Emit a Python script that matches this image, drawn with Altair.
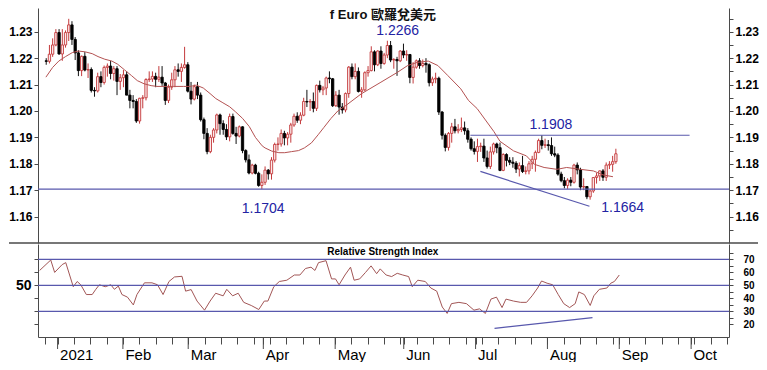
import altair as alt
import pandas as pd

# ---------------- data (trading-day index: 0 = 4 Jan 2021) ----------------
day_index = list(range(-5, 173))
open_px = [
    1.2190, 1.2188, 1.2215, 1.2250, 1.2297, 1.2216, 1.2250, 1.2297, 1.2326, 1.2271,
    1.2220, 1.2153, 1.2207, 1.2155, 1.2157, 1.2078, 1.2076, 1.2130, 1.2108, 1.2165,
    1.2170, 1.2142, 1.2160, 1.2112, 1.2126, 1.2137, 1.2060, 1.2040, 1.2036, 1.1962,
    1.2048, 1.2050, 1.2119, 1.2121, 1.2131, 1.2120, 1.2128, 1.2106, 1.2040, 1.2090,
    1.2118, 1.2156, 1.2150, 1.2165, 1.2175, 1.2075, 1.2045, 1.2092, 1.2060, 1.1967,
    1.1915, 1.1846, 1.1900, 1.1928, 1.1985, 1.1952, 1.1930, 1.1902, 1.1979, 1.1915,
    1.1905, 1.1940, 1.1850, 1.1815, 1.1765, 1.1795, 1.1764, 1.1718, 1.1730, 1.1776,
    1.1762, 1.1814, 1.1873, 1.1875, 1.1915, 1.1898, 1.1912, 1.1947, 1.1980, 1.1965,
    1.1984, 1.2036, 1.2034, 1.2036, 1.2010, 1.2097, 1.2080, 1.2087, 1.2125, 1.2122,
    1.2020, 1.2060, 1.2015, 1.2004, 1.2066, 1.2166, 1.2130, 1.2150, 1.2074, 1.2080,
    1.2145, 1.2153, 1.2224, 1.2175, 1.2227, 1.2180, 1.2212, 1.2248, 1.2193, 1.2195,
    1.2190, 1.2227, 1.2212, 1.2214, 1.2127, 1.2166, 1.2190, 1.2172, 1.2180, 1.2175,
    1.2107, 1.2121, 1.2124, 1.1996, 1.1908, 1.1862, 1.1915, 1.1940, 1.1925, 1.1930,
    1.1936, 1.1925, 1.1893, 1.1857, 1.1847, 1.1865, 1.1867, 1.1822, 1.1790, 1.1845,
    1.1875, 1.1861, 1.1775, 1.1835, 1.1813, 1.1806, 1.1802, 1.1780, 1.1793, 1.1771,
    1.1773, 1.1800, 1.1817, 1.1843, 1.1888, 1.1870, 1.1872, 1.1869, 1.1838, 1.1833,
    1.1761, 1.1736, 1.1718, 1.1738, 1.1730, 1.1795, 1.1777, 1.1712, 1.1714, 1.1675,
    1.1697, 1.1748, 1.1754, 1.1773, 1.1749, 1.1795, 1.1798, 1.1808,
]
high_px = [
    1.2200, 1.2250, 1.2275, 1.2310, 1.2310, 1.2310, 1.2305, 1.2349, 1.2340, 1.2280,
    1.2230, 1.2210, 1.2223, 1.2180, 1.2165, 1.2090, 1.2145, 1.2150, 1.2172, 1.2180,
    1.2190, 1.2170, 1.2170, 1.2140, 1.2155, 1.2150, 1.2080, 1.2060, 1.2045, 1.2050,
    1.2060, 1.2124, 1.2150, 1.2150, 1.2145, 1.2170, 1.2170, 1.2110, 1.2100, 1.2145,
    1.2170, 1.2180, 1.2180, 1.2243, 1.2185, 1.2110, 1.2100, 1.2110, 1.2070, 1.1975,
    1.1935, 1.1910, 1.1935, 1.1990, 1.1990, 1.1965, 1.1950, 1.1990, 1.1990, 1.1940,
    1.1945, 1.1942, 1.1855, 1.1835, 1.1800, 1.1800, 1.1770, 1.1760, 1.1790, 1.1780,
    1.1825, 1.1880, 1.1900, 1.1930, 1.1925, 1.1920, 1.1955, 1.1990, 1.1995, 1.1995,
    1.2050, 1.2080, 1.2045, 1.2070, 1.2100, 1.2115, 1.2095, 1.2130, 1.2150, 1.2125,
    1.2075, 1.2080, 1.2030, 1.2070, 1.2170, 1.2180, 1.2180, 1.2165, 1.2090, 1.2150,
    1.2170, 1.2245, 1.2230, 1.2230, 1.2245, 1.2220, 1.2266, 1.2265, 1.2200, 1.2205,
    1.2230, 1.2255, 1.2230, 1.2215, 1.2185, 1.2195, 1.2200, 1.2195, 1.2200, 1.2180,
    1.2130, 1.2145, 1.2130, 1.2000, 1.1915, 1.1920, 1.1955, 1.1970, 1.1950, 1.1975,
    1.1960, 1.1935, 1.1900, 1.1885, 1.1895, 1.1880, 1.1895, 1.1850, 1.1865, 1.1880,
    1.1880, 1.1880, 1.1840, 1.1840, 1.1825, 1.1825, 1.1810, 1.1805, 1.1830, 1.1790,
    1.1810, 1.1830, 1.1850, 1.1895, 1.1908, 1.1895, 1.1890, 1.1900, 1.1865, 1.1840,
    1.1770, 1.1750, 1.1745, 1.1750, 1.1800, 1.1805, 1.1785, 1.1745, 1.1715, 1.1702,
    1.1750, 1.1765, 1.1775, 1.1780, 1.1805, 1.1810, 1.1830, 1.1857,
]
low_px = [
    1.2175, 1.2180, 1.2205, 1.2245, 1.2213, 1.2190, 1.2240, 1.2265, 1.2250, 1.2193,
    1.2132, 1.2132, 1.2150, 1.2125, 1.2070, 1.2054, 1.2070, 1.2090, 1.2100, 1.2130,
    1.2120, 1.2115, 1.2060, 1.2080, 1.2090, 1.2060, 1.2010, 1.2010, 1.1955, 1.1952,
    1.2010, 1.2040, 1.2110, 1.2110, 1.2090, 1.2110, 1.2095, 1.2023, 1.2030, 1.2080,
    1.2090, 1.2130, 1.2110, 1.2160, 1.2070, 1.2025, 1.2040, 1.2045, 1.1960, 1.1893,
    1.1836, 1.1840, 1.1880, 1.1915, 1.1910, 1.1910, 1.1890, 1.1885, 1.1910, 1.1875,
    1.1900, 1.1840, 1.1805, 1.1760, 1.1760, 1.1760, 1.1713, 1.1704, 1.1720, 1.1740,
    1.1740, 1.1805, 1.1850, 1.1865, 1.1870, 1.1870, 1.1880, 1.1940, 1.1955, 1.1950,
    1.1980, 1.2015, 1.2000, 1.1995, 1.2000, 1.2070, 1.2060, 1.2060, 1.2105, 1.2015,
    1.2015, 1.1986, 1.1990, 1.1995, 1.2050, 1.2120, 1.2120, 1.2070, 1.2050, 1.2075,
    1.2130, 1.2150, 1.2150, 1.2170, 1.2160, 1.2175, 1.2200, 1.2185, 1.2160, 1.2133,
    1.2185, 1.2200, 1.2190, 1.2105, 1.2104, 1.2160, 1.2160, 1.2165, 1.2145, 1.2093,
    1.2095, 1.2105, 1.1985, 1.1892, 1.1847, 1.1850, 1.1880, 1.1915, 1.1915, 1.1920,
    1.1910, 1.1880, 1.1850, 1.1835, 1.1807, 1.1845, 1.1807, 1.1782, 1.1780, 1.1835,
    1.1840, 1.1772, 1.1772, 1.1790, 1.1795, 1.1785, 1.1765, 1.1752, 1.1765, 1.1760,
    1.1760, 1.1780, 1.1770, 1.1840, 1.1855, 1.1860, 1.1850, 1.1830, 1.1825, 1.1755,
    1.1730, 1.1707, 1.1705, 1.1715, 1.1725, 1.1760, 1.1700, 1.1700, 1.1666, 1.1664,
    1.1690, 1.1725, 1.1735, 1.1735, 1.1735, 1.1780, 1.1770, 1.1800,
]
close_px = [
    1.2188, 1.2215, 1.2250, 1.2297, 1.2216, 1.2250, 1.2297, 1.2326, 1.2271, 1.2220,
    1.2153, 1.2207, 1.2155, 1.2157, 1.2078, 1.2076, 1.2130, 1.2108, 1.2165, 1.2170,
    1.2142, 1.2160, 1.2112, 1.2126, 1.2137, 1.2060, 1.2040, 1.2036, 1.1962, 1.2048,
    1.2050, 1.2119, 1.2121, 1.2131, 1.2120, 1.2128, 1.2106, 1.2040, 1.2090, 1.2118,
    1.2156, 1.2150, 1.2165, 1.2175, 1.2075, 1.2045, 1.2092, 1.2060, 1.1967, 1.1915,
    1.1846, 1.1900, 1.1928, 1.1985, 1.1952, 1.1930, 1.1902, 1.1979, 1.1915, 1.1905,
    1.1940, 1.1850, 1.1815, 1.1765, 1.1795, 1.1764, 1.1718, 1.1730, 1.1776, 1.1762,
    1.1814, 1.1873, 1.1875, 1.1915, 1.1898, 1.1912, 1.1947, 1.1980, 1.1965, 1.1984,
    1.2036, 1.2034, 1.2036, 1.2010, 1.2097, 1.2080, 1.2087, 1.2125, 1.2122, 1.2020,
    1.2060, 1.2015, 1.2004, 1.2066, 1.2166, 1.2130, 1.2150, 1.2074, 1.2080, 1.2145,
    1.2153, 1.2224, 1.2175, 1.2227, 1.2180, 1.2212, 1.2248, 1.2193, 1.2195, 1.2190,
    1.2227, 1.2212, 1.2214, 1.2127, 1.2166, 1.2190, 1.2172, 1.2180, 1.2175, 1.2107,
    1.2121, 1.2124, 1.1996, 1.1908, 1.1862, 1.1915, 1.1940, 1.1925, 1.1930, 1.1936,
    1.1925, 1.1893, 1.1857, 1.1847, 1.1865, 1.1867, 1.1822, 1.1790, 1.1845, 1.1875,
    1.1861, 1.1775, 1.1835, 1.1813, 1.1806, 1.1802, 1.1780, 1.1793, 1.1771, 1.1773,
    1.1800, 1.1817, 1.1843, 1.1888, 1.1870, 1.1872, 1.1869, 1.1838, 1.1833, 1.1761,
    1.1736, 1.1718, 1.1738, 1.1730, 1.1795, 1.1777, 1.1712, 1.1714, 1.1675, 1.1697,
    1.1748, 1.1754, 1.1773, 1.1749, 1.1795, 1.1798, 1.1808, 1.1838,
]

ma_index = [-5.1, -3.0, -1.1, 1.0, 3.1, 5.0, 7.1, 9.3, 11.1, 13.2, 15.4, 17.2, 19.3, 21.5,
            23.3, 25.4, 27.6, 29.4, 31.5, 34.6, 37.6, 39.8, 41.6, 43.8, 45.9, 47.7, 49.9,
            52.0, 53.8, 56.0, 58.1, 60.0, 62.1, 63.0, 65.1, 67.3, 69.1, 71.2, 73.4, 75.2,
            77.4, 79.5, 81.3, 83.5, 85.6, 87.7, 92.9, 99.0, 104.2, 107.3, 110.3, 113.7,
            116.7, 119.8, 123.8, 126.2, 128.9, 134.1, 136.0, 140.2, 144.2, 146.7, 149.7,
            153.7, 156.7, 161.0, 165.0, 168.0, 171.1]
ma_value = [1.2128, 1.2165, 1.2189, 1.2206, 1.2221, 1.2227, 1.2224, 1.2217, 1.2206, 1.2196,
            1.2189, 1.2177, 1.2156, 1.2134, 1.2115, 1.2103, 1.2096, 1.2093, 1.2093, 1.2093,
            1.2093, 1.2093, 1.2098, 1.2087, 1.2066, 1.2047, 1.2031, 1.2016, 1.1997, 1.1972,
            1.1941, 1.1900, 1.1868, 1.1860, 1.1848, 1.1842, 1.1842, 1.1846, 1.1850, 1.1860,
            1.1879, 1.1910, 1.1938, 1.1972, 1.2000, 1.2017, 1.2065, 1.2109, 1.2147, 1.2172,
            1.2184, 1.2189, 1.2172, 1.2134, 1.2084, 1.2040, 1.2009, 1.1922, 1.1885, 1.1849,
            1.1830, 1.1798, 1.1786, 1.1779, 1.1786, 1.1779, 1.1773, 1.1758, 1.1751]

rsi_index = [-5.5, -2.1, -0.9, 1.4, 2.5, 4.8, 6.0, 7.1, 8.8, 10.6,
             11.7, 12.8, 14.6, 16.3, 17.4, 18.6, 19.7, 21.4, 23.2, 24.3,
             26.6, 28.9, 30.6, 32.3, 34.1, 35.8, 38.1, 39.2, 40.9, 42.7,
             45.0, 46.7, 48.4, 50.7, 51.8, 53.6, 55.3, 57.0, 59.3, 61.6,
             63.3, 64.4, 66.2, 67.9, 70.2, 72.5, 74.2, 75.9, 77.6, 78.8,
             79.9, 82.2, 83.9, 85.1, 86.2, 88.0, 89.7, 90.8, 92.5, 94.3,
             96.0, 97.7, 98.8, 100.6, 102.3, 104.0, 105.7, 107.5, 108.6, 110.3,
             112.6, 114.3, 116.1, 117.8, 119.3, 120.6, 122.9, 125.2, 127.5, 129.2,
             131.0, 132.7, 134.4, 136.1, 137.3, 139.6, 141.8, 143.6, 145.3, 147.0,
             148.2, 149.9, 151.6, 153.3, 155.0, 156.8, 158.5, 159.6, 161.3, 163.1,
             164.2, 165.9, 168.2, 169.4, 170.5, 172.0]
rsi_value = [61.5, 69.5, 60, 66, 67.5, 49, 53, 50.5, 43, 43,
             47, 50.5, 49, 50.5, 47, 49.5, 43, 41, 35, 43,
             52, 52, 50.5, 43, 53, 56.5, 57, 45.6, 46.8, 38,
             31, 38, 44, 42, 47, 42, 44, 37, 34.6, 31.5,
             38, 38, 49, 53, 54, 58, 58, 63, 64, 61.5,
             67.5, 69, 55, 55, 50.5, 58, 64, 54, 55, 60,
             65, 59, 62.7, 58, 56.8, 59.3, 58, 56.8, 49, 54,
             53, 48, 45.6, 33.4, 28.5, 36, 37, 36, 31, 32,
             28.5, 39.5, 41, 33, 39.5, 38, 37, 37, 42, 48,
             53.4, 51.7, 50.5, 43, 36, 33, 36, 45, 43, 34.6,
             42, 47, 48, 51.7, 53, 58]

# annotations
support_level = 1.1704
resistance_level = 1.1908
resistance_span = [126.8, 194.9]
price_trend_x = [129.9, 163.8]
price_trend_y = [1.1771, 1.1639]
rsi_levels = [70, 50, 30]
rsi_trend_x = [133.8, 163.8]
rsi_trend_y = [17.0, 25.3]
note_text = ["1.2266", "1.1704", "1.1908", "1.1664"]
note_x = [104.2, 62.4, 151.8, 174.1]
note_y = [1.2303, 1.1629, 1.1946, 1.1633]
chart_title = "f Euro 歐羅兌美元"

# axis ticks / labels
month_start = [0, 20, 40, 63, 85, 106, 128, 150, 172, 194]
month_name = ["2021", "Feb", "Mar", "Apr", "May", "Jun", "Jul", "Aug", "Sep", "Oct"]
week_ticks = [-4] + list(range(0, 206, 5))
price_left_ticks = [1.16, 1.17, 1.18, 1.19, 1.20, 1.21, 1.22, 1.23]
price_right_ticks = [1.155, 1.160, 1.165, 1.170, 1.175, 1.180, 1.185, 1.190,
                     1.195, 1.200, 1.205, 1.210, 1.215, 1.220, 1.225, 1.230, 1.235]
rsi_left_ticks = [20, 30, 40, 50, 60, 70]
rsi_right_ticks = [20, 25, 30, 35, 40, 45, 50, 55, 60, 65, 70, 75]

# ---------------- styling ----------------
W, H1, H2 = 691, 235, 93
RED = "#c43a3c"
MA_COL = "#b45252"
RSI_COL = "#a25656"
BLUE = "#5858ad"
TXT_BLUE = "#2323a3"
AX = "#4a4a4a"
FONT = "Liberation Sans"

candles = pd.DataFrame({"i": day_index, "open": open_px, "high": high_px,
                        "low": low_px, "close": close_px})
ma_df = pd.DataFrame({"i": ma_index, "v": ma_value})
rsi_df = pd.DataFrame({"i": rsi_index, "v": rsi_value})

xs = alt.Scale(domain=[-6, 205.6], nice=False, zero=False)
ys = alt.Scale(domain=[1.15, 1.239], nice=False, zero=False)
ys2 = alt.Scale(domain=[10.4, 81.8], nice=False, zero=False)

up = "datum.close >= datum.open"

common = dict(title=None, grid=False, labelFont=FONT, labelColor="#000", tickColor=AX,
              domainColor=AX, labelOverlap=False, labelFlush=False, labelBound=False)

left_price_axis = alt.Axis(
    orient="left", values=price_left_ticks, format=".2f",
    tickSize=4, labelPadding=2, labelFontSize=12, labelFontWeight="bold",
    minExtent=29, maxExtent=29, **common)
right_price_axis = alt.Axis(
    orient="right", values=price_right_ticks,
    labelExpr="round(datum.value * 1000) % 10 != 0 ? '' : format(datum.value, '.2f')",
    tickSize=4, labelPadding=2, labelFontSize=12, labelFontWeight="bold",
    minExtent=29, maxExtent=29, **common)

wicks = alt.Chart(candles).mark_rule(strokeWidth=1).encode(
    x=alt.X("i:Q", scale=xs, axis=None),
    y=alt.Y("low:Q", scale=ys, axis=left_price_axis),
    y2="high:Q",
    color=alt.condition(up, alt.value(RED), alt.value("#111111")),
)
bodies = alt.Chart(candles).mark_bar(size=2.3, strokeWidth=0.9).encode(
    x=alt.X("i:Q", scale=xs, axis=None),
    y=alt.Y("open:Q", scale=ys, axis=right_price_axis),
    y2="close:Q",
    fill=alt.condition(up, alt.value("#fbeaea"), alt.value("#000000")),
    stroke=alt.condition(up, alt.value(RED), alt.value("#000000")),
)
ma_line = alt.Chart(ma_df).mark_line(color=MA_COL, strokeWidth=1).encode(
    x=alt.X("i:Q", scale=xs, axis=None),
    y=alt.Y("v:Q", scale=ys, axis=None),
)
support = alt.Chart(pd.DataFrame({"v": [support_level]})).mark_rule(
    color=BLUE, strokeWidth=1.2).encode(y=alt.Y("v:Q", scale=ys, axis=None))
resistance = alt.Chart(pd.DataFrame({
    "x1": [resistance_span[0]], "x2": [resistance_span[1]], "v": [resistance_level]
})).mark_rule(color=BLUE, strokeWidth=1.2).encode(
    x=alt.X("x1:Q", scale=xs, axis=None), x2="x2:Q",
    y=alt.Y("v:Q", scale=ys, axis=None))
trend = alt.Chart(pd.DataFrame({
    "x1": [price_trend_x[0]], "x2": [price_trend_x[1]],
    "y1": [price_trend_y[0]], "y2": [price_trend_y[1]]
})).mark_rule(color=BLUE, strokeWidth=1.2).encode(
    x=alt.X("x1:Q", scale=xs, axis=None), x2="x2:Q",
    y=alt.Y("y1:Q", scale=ys, axis=None), y2="y2:Q")
notes = alt.Chart(pd.DataFrame({"t": note_text, "x": note_x, "y": note_y})).mark_text(
    font=FONT, fontSize=14, color=TXT_BLUE, align="center", baseline="middle").encode(
    x=alt.X("x:Q", scale=xs, axis=None), y=alt.Y("y:Q", scale=ys, axis=None), text="t:N")
title = alt.Chart(pd.DataFrame({"t": [chart_title], "x": [99.6], "y": [1.2363]})).mark_text(
    font="Liberation Sans, Noto Sans CJK TC", fontSize=13, fontWeight="bold", color="#111",
    align="center", baseline="middle").encode(
    x=alt.X("x:Q", scale=xs, axis=None), y=alt.Y("y:Q", scale=ys, axis=None), text="t:N")
separator = alt.Chart(pd.DataFrame({"a": [0]})).mark_rule(color=AX, strokeWidth=1.3).encode(
    x=alt.value(-29), x2=alt.value(W + 29), y=alt.value(H1))

main = alt.layer(wicks, bodies, ma_line, support, resistance, trend, notes, title,
                 separator).resolve_axis(y="independent").properties(width=W, height=H1)

# ---------------- RSI panel ----------------
label_expr = " : ".join(f"datum.value == {v} ? '{n}'" for v, n in zip(month_start, month_name)) + " : ''"
x_ticks = sorted(set(week_ticks) | set(month_start))

x_axis = alt.Axis(
    orient="bottom", values=x_ticks, labelExpr=label_expr, tickSize=7,
    labelAlign="left", labelOffset=2, labelPadding=3, labelFontSize=15, **common)
rsi_left_axis = alt.Axis(
    orient="left", values=rsi_left_ticks,
    labelExpr="datum.value == 50 ? '50' : ''", tickSize=4, labelPadding=3,
    labelFontSize=14, labelFontWeight="bold", minExtent=29, maxExtent=29, **common)
rsi_right_axis = alt.Axis(
    orient="right", values=rsi_right_ticks,
    labelExpr="datum.value % 10 == 0 ? datum.value : ''",
    tickSize=4, labelPadding=10, labelFontSize=10, labelFontWeight="bold",
    minExtent=29, maxExtent=29, **common)

rsi_line = alt.Chart(rsi_df).mark_line(color=RSI_COL, strokeWidth=1).encode(
    x=alt.X("i:Q", scale=xs, axis=x_axis),
    y=alt.Y("v:Q", scale=ys2, axis=rsi_left_axis),
)
levels = alt.Chart(pd.DataFrame({"v": rsi_levels})).mark_rule(
    color=BLUE, strokeWidth=1.2).encode(y=alt.Y("v:Q", scale=ys2, axis=rsi_right_axis))
rsi_trend = alt.Chart(pd.DataFrame({
    "x1": [rsi_trend_x[0]], "x2": [rsi_trend_x[1]],
    "y1": [rsi_trend_y[0]], "y2": [rsi_trend_y[1]]
})).mark_rule(color=BLUE, strokeWidth=1.2).encode(
    x=alt.X("x1:Q", scale=xs, axis=x_axis), x2="x2:Q",
    y=alt.Y("y1:Q", scale=ys2, axis=None), y2="y2:Q")
rsi_label = alt.Chart(pd.DataFrame({"t": ["Relative Strength Index"], "x": [99.6], "y": [75.7]})).mark_text(
    font=FONT, fontSize=10, fontWeight="bold", color="#000", align="center",
    baseline="middle").encode(
    x=alt.X("x:Q", scale=xs, axis=x_axis), y=alt.Y("y:Q", scale=ys2, axis=None), text="t:N")
month_ticks = alt.Chart(pd.DataFrame({"m": month_start})).mark_rule(color=AX, strokeWidth=1).encode(
    x=alt.X("m:Q", scale=xs, axis=x_axis), y=alt.value(H2), y2=alt.value(H2 + 12))

rsi = alt.layer(rsi_line, levels, rsi_trend, rsi_label, month_ticks).resolve_axis(
    y="independent").properties(width=W, height=H2)

chart = alt.vconcat(main, rsi, spacing=0).properties(padding=0).configure_view(stroke=None)

chart.save("out.html", embed_options={"renderer": "svg", "actions": False})
